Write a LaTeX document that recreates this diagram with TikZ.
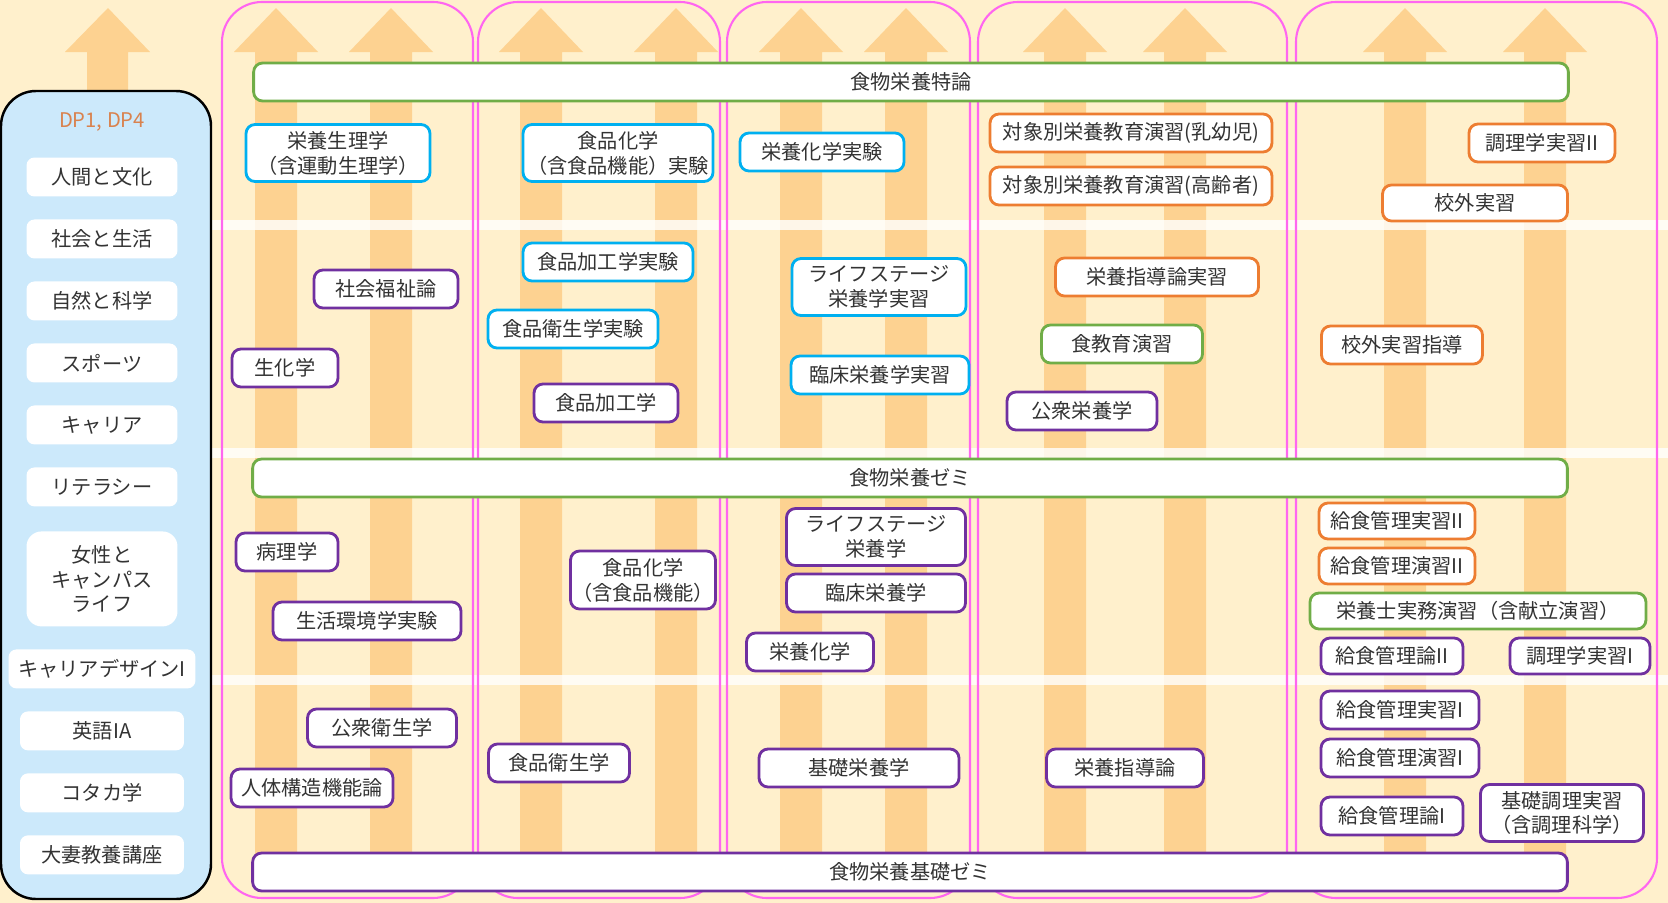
\documentclass[tikz,border=0pt]{standalone}
\usepackage{fontspec}
\setmainfont{Noto Sans CJK JP}
\usetikzlibrary{positioning}

\definecolor{cream}{RGB}{255,240,204}
\definecolor{stripe}{RGB}{253,210,145}
\definecolor{panelblue}{RGB}{204,233,251}
\definecolor{colpink}{RGB}{255,102,240}
\definecolor{kblue}{RGB}{0,176,240}
\definecolor{kpurple}{RGB}{112,48,160}
\definecolor{korange}{RGB}{237,125,49}
\definecolor{kgreen}{RGB}{112,173,71}
\definecolor{dptext}{RGB}{217,130,78}
\definecolor{txt}{RGB}{51,51,51}

\tikzstyle{course} = [rectangle, rounded corners=0.18cm, fill=white, line width=1.6pt, text=txt, align=center, inner sep=1pt, minimum height=0.76cm, font={\fontsize{11.5}{14.2}\selectfont}]
\tikzstyle{labbox} = [course, draw=kblue]
\tikzstyle{lecbox} = [course, draw=kpurple]
\tikzstyle{pracbox} = [course, draw=korange]
\tikzstyle{semibox} = [course, draw=kgreen]
\tikzstyle{wbar} = [minimum width=26.3cm]
\tikzstyle{dpitem} = [rectangle, rounded corners=0.16cm, fill=white, text=txt, align=center, minimum width=3.02cm, minimum height=0.78cm, font={\fontsize{11.5}{14.2}\selectfont}]
\tikzstyle{column} = [draw=colpink, line width=1.2pt, rounded corners=0.8cm]
\tikzstyle{band} = [fill=white, opacity=0.8]

\begin{document}
\begin{tikzpicture}[x=0.02cm, y=-0.02cm, node distance=1.24cm]

\useasboundingbox (0,0) rectangle (1668,903);
\fill[cream] (0,0) rectangle (1668,903);

% Arrows behind the columns
\foreach \cx in {276,391,541,676,801,906,1065,1185,1405,1545}
  \fill[stripe] (\cx-21,890) -- (\cx-21,52) -- (\cx-42,52) -- (\cx,8) -- (\cx+42,52) -- (\cx+21,52) -- (\cx+21,890) -- cycle;
\fill[stripe] (87,120) -- (87,52) -- (65,52) -- (108,8) -- (150,52) -- (128,52) -- (128,120) -- cycle;

% White bands
\foreach \by in {225,453,680}
  \fill[band] (212,\by-5) rectangle (1668,\by+5);

% Columns
\foreach \xa/\xb in {222/473,478/720,727/970,978/1287,1296/1657}
  \draw[column] (\xa,2) rectangle (\xb,898);

% DP panel
\draw[fill=panelblue, line width=1.4pt, rounded corners=0.7cm] (1,91) rectangle (211,899);
\node (dp) [text=dptext, font={\fontsize{11.5}{14}\selectfont}] at (102,122) {DP1, DP4};
\node (jinkan) [dpitem] at (102,177) {人間と文化};
\node (shakai) [dpitem, below of=jinkan] {社会と生活};
\node (shizen) [dpitem, below of=shakai] {自然と科学};
\node (sports) [dpitem, below of=shizen] {スポーツ};
\node (career) [dpitem, below of=sports] {キャリア};
\node (literacy) [dpitem, below of=career] {リテラシー};
\node (josei) [dpitem, below of=literacy, yshift=-0.6cm, minimum height=1.9cm, rounded corners=0.3cm] {女性と\\キャンパス\\ライフ};
\node (design) [dpitem, below of=josei, yshift=-0.56cm, minimum width=3.74cm] {キャリアデザインI};
\node (eigo) [dpitem, below of=design, minimum width=3.28cm] {英語IA};
\node (kotaka) [dpitem, below of=eigo, minimum width=3.28cm] {コタカ学};
\node (kyoyo) [dpitem, below of=kotaka, minimum width=3.28cm] {大妻教養講座};

% Wide bars
\node (tokuron) [semibox, wbar] at (911,82) {食物栄養特論};
\node (zemi) [semibox, wbar] at (910,478) {食物栄養ゼミ};
\node (kisozemi) [lecbox, wbar] at (910,872) {食物栄養基礎ゼミ};

% Column 1
\node (eiyouseiri) [labbox, minimum width=3.68cm, minimum height=1.14cm] at (338,153) {栄養生理学\\（含運動生理学）};
\node (fukushi) [lecbox, minimum width=2.88cm] at (386,289) {社会福祉論};
\node (seika) [lecbox, minimum width=2.12cm] at (285,368) {生化学};
\node (byouri) [lecbox, minimum width=2.04cm] at (287,552) {病理学};
\node (seikatsu) [lecbox, minimum width=3.76cm] at (367,621) {生活環境学実験};
\node (koshu) [lecbox, minimum width=2.98cm] at (382,728) {公衆衛生学};
\node (jintai) [lecbox, minimum width=3.24cm] at (312,788) {人体構造機能論};

% Column 2
\node (kagakujikken) [labbox, minimum width=3.8cm, minimum height=1.14cm] at (618,153) {食品化学\\（含食品機能）実験};
\node (kakoujikken) [labbox, minimum width=3.4cm] at (608,262) {食品加工学実験};
\node (eiseijikken) [labbox, minimum width=3.4cm] at (573,329) {食品衛生学実験};
\node (kakou) [lecbox, minimum width=2.88cm] at (606,403) {食品加工学};
\node (kagaku) [lecbox, minimum width=2.82cm, minimum height=1.16cm] at (643,580) {食品化学\\（含食品機能）};
\node (eisei) [lecbox, minimum width=2.82cm] at (559,763) {食品衛生学};

% Column 3
\node (eiyoukagakujikken) [labbox, minimum width=3.28cm] at (822,152) {栄養化学実験};
\node (lifejisshu) [labbox, minimum width=3.48cm, minimum height=1.14cm] at (879,287) {ライフステージ\\栄養学実習};
\node (rinshojisshu) [labbox, minimum width=3.56cm] at (880,375) {臨床栄養学実習};
\node (life) [lecbox, minimum width=3.58cm, minimum height=1.14cm] at (876,537) {ライフステージ\\栄養学};
\node (rinsho) [lecbox, minimum width=3.58cm] at (876,593) {臨床栄養学};
\node (eiyoukagaku) [lecbox, minimum width=2.54cm] at (810,652) {栄養化学};
\node (kisoeiyou) [lecbox, minimum width=4cm] at (859,768) {基礎栄養学};

% Column 4
\node (taisho1) [pracbox, minimum width=5.64cm] at (1131,133) {対象別栄養教育演習(乳幼児)};
\node (taisho2) [pracbox, minimum width=5.64cm] at (1131,186) {対象別栄養教育演習(高齢者)};
\node (shidoujisshu) [pracbox, minimum width=4.06cm] at (1157,277) {栄養指導論実習};
\node (shokuiku) [semibox, minimum width=3.22cm] at (1122,344) {食教育演習};
\node (koshueiyou) [lecbox, minimum width=3cm] at (1082,411) {公衆栄養学};
\node (shidou) [lecbox, minimum width=3.14cm] at (1125,768) {栄養指導論};

% Column 5
\node (chouri2) [pracbox, minimum width=2.92cm] at (1542,143) {調理学実習II};
\node (kougai) [pracbox, minimum width=3.7cm, minimum height=0.72cm] at (1475,203) {校外実習};
\node (kougaishidou) [pracbox, minimum width=3.22cm] at (1402,345) {校外実習指導};
\node (kjisshu2) [pracbox, minimum width=3.12cm, minimum height=0.72cm] at (1397,521) {給食管理実習II};
\node (kenshu2) [pracbox, minimum width=3.12cm, minimum height=0.72cm] at (1397,566) {給食管理演習II};
\node (jitsumu) [semibox, minimum width=6.72cm, minimum height=0.72cm] at (1478,611) {栄養士実務演習（含献立演習）};
\node (kron2) [lecbox, minimum width=2.84cm, minimum height=0.72cm] at (1392,656) {給食管理論II};
\node (chouri1) [lecbox, minimum width=2.8cm, minimum height=0.72cm] at (1580,656) {調理学実習I};
\node (kjisshu1) [lecbox, minimum width=3.16cm] at (1400,710) {給食管理実習I};
\node (kenshu1) [lecbox, minimum width=3.16cm] at (1400,758) {給食管理演習I};
\node (kron1) [lecbox, minimum width=2.84cm] at (1392,816) {給食管理論I};
\node (kisochouri) [lecbox, minimum width=3.26cm, minimum height=1.14cm] at (1562,813) {基礎調理実習\\（含調理科学）};

\end{tikzpicture}
\end{document}
